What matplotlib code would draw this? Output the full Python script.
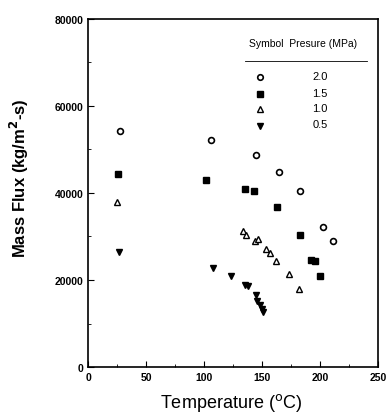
import matplotlib.pyplot as plt
from matplotlib.ticker import MultipleLocator
import matplotlib

matplotlib.rcParams['font.family'] = ['Liberation Sans', 'DejaVu Sans']

# data
t_20 = [27.6, 105.8, 145.2, 164.6, 182.3, 202.6, 211.0]
g_20 = [54250, 52250, 48800, 44900, 40530, 32250, 29040]

t_15 = [25.8, 102.0, 135.7, 143.2, 162.9, 182.6, 192.5, 195.4, 200.0]
g_15 = [44370, 43060, 40850, 40460, 36710, 30350, 24600, 24300, 20850]

t_10 = [24.9, 133.9, 136.5, 143.8, 146.7, 153.0, 156.8, 162.0, 172.8, 182.0]
g_10 = [37860, 31200, 30350, 29040, 29430, 27130, 26140, 24440, 21380, 17930]

t_05 = [26.7, 107.5, 122.9, 135.0, 138.0, 144.6, 146.0, 148.0, 149.6, 151.0]
g_05 = [26500, 22760, 20990, 18850, 18690, 16620, 15240, 14250, 13330, 12710]

pressures = ['2.0', '1.5', '1.0', '0.5']

fig = plt.figure(figsize=(3.92, 4.14), dpi=100)
ax = fig.add_axes([0.2245, 0.111, 0.74, 0.841])

ax.plot(t_20, g_20, 'o', ms=4.2, mfc='white', mec='black', mew=1.2)
ax.plot(t_15, g_15, 's', ms=4.2, color='black')
ax.plot(t_10, g_10, '^', ms=4.5, mfc='white', mec='black', mew=1.0)
ax.plot(t_05, g_05, 'v', ms=5.0, color='black')

ax.set_xlim(0, 250)
ax.set_ylim(0, 80000)
ax.xaxis.set_major_locator(MultipleLocator(50))
ax.xaxis.set_minor_locator(MultipleLocator(25))
ax.yaxis.set_major_locator(MultipleLocator(20000))
ax.yaxis.set_minor_locator(MultipleLocator(10000))
ax.tick_params(which='both', direction='in', top=False, right=False,
               labelsize=7.5)
ax.tick_params(which='major', length=4)
ax.tick_params(which='minor', length=2)
for lbl in ax.get_xticklabels() + ax.get_yticklabels():
    lbl.set_fontweight('bold')
for sp in ax.spines.values():
    sp.set_linewidth(1.2)

ax.set_xlabel('Temperature ($^{\\rm o}$C)', fontsize=13, va='center')
ax.xaxis.set_label_coords(0.493, -0.10)
ax.set_ylabel('Mass Flux (kg/m$^{\\bf 2}$-s)', fontsize=12,
              fontweight='bold')
ax.yaxis.set_label_coords(-0.198, 0.546)

# legend table drawn inside the axes
ax.text(0.928, 0.931, 'Symbol  Presure (MPa)', transform=ax.transAxes,
        ha='right', va='center', fontsize=7.5)
ax.plot([0.541, 0.962], [0.879, 0.879], transform=ax.transAxes,
        color='black', lw=0.6)
rows_y = [0.833, 0.784, 0.741, 0.693]
ax.plot(0.593, rows_y[0], 'o', ms=4.0, mfc='white', mec='black', mew=1.2,
        transform=ax.transAxes)
ax.plot(0.593, rows_y[1], 's', ms=4.0, color='black', transform=ax.transAxes)
ax.plot(0.593, rows_y[2], '^', ms=4.3, mfc='white', mec='black', mew=1.0,
        transform=ax.transAxes)
ax.plot(0.593, rows_y[3], 'v', ms=4.8, color='black', transform=ax.transAxes)
for i, p in enumerate(pressures):
    ax.text(0.80, rows_y[i] + 0.004, p, transform=ax.transAxes,
            ha='center', va='center', fontsize=8)

fig.savefig('out.png', dpi=100)
